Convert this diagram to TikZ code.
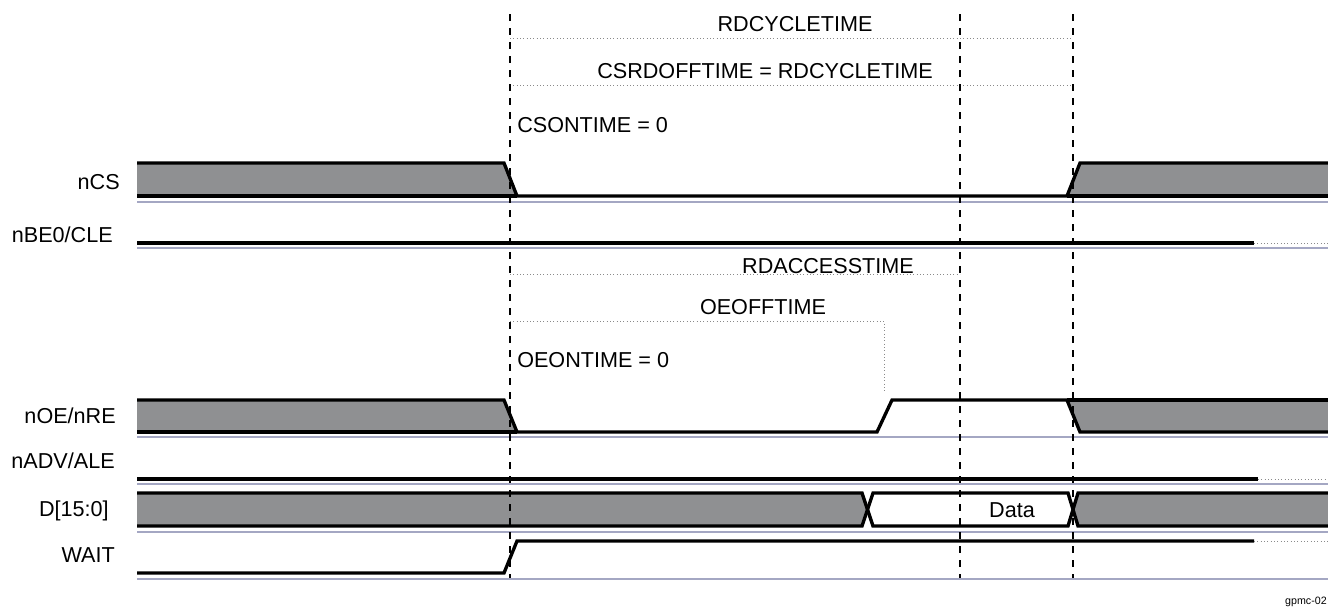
\documentclass[tikz,border=0pt]{standalone}
\usepackage{fontspec}
\setmainfont{Liberation Sans}
\usepackage{xcolor}
\usepackage{tikz}
\definecolor{cfill}{HTML}{8F9092}
\definecolor{cbase}{HTML}{A4A7C3}
\definecolor{cdot}{HTML}{8A8A8A}
\tikzset{
  sig/.style={line width=2.5pt,line join=miter},
  base/.style={cbase,line width=1.5pt},
  tick/.style={line width=1.2pt,dash pattern=on 5.5pt off 5pt},
  span/.style={cdot,line width=0.5pt,dotted},
  lbl/.style={font=\fontsize{16.2}{19}\selectfont,inner sep=0pt},
}

\begin{document}
\begin{tikzpicture}[x=0.75pt,y=-0.75pt]
\useasboundingbox (0,0) rectangle (1328,608);

% ===== signal names =====
\node[lbl,anchor=base east] (lcs) at (120,189) {nCS};
\node[lbl,anchor=base east] (lbe) at (113,242) {nBE0/CLE};
\node[lbl,anchor=base east] (loe) at (116,423) {nOE/nRE};
\node[lbl,anchor=base east] (ladv) at (115,468) {nADV/ALE};
\node[lbl,anchor=base east] (ld) at (109,516) {D[15:0]};
\node[lbl,anchor=base east] (lwait) at (115,562) {WAIT};

% ===== baselines =====
\foreach \y in {202,248,437,484,532,579}
  \draw[base] (137,\y) -- (1328,\y);

% ===== nCS =====
\fill[cfill] (137,163) -- (504,163) -- (517,196) -- (137,196) -- cycle;
\fill[cfill] (1080,163) -- (1328,163) -- (1328,196) -- (1067,196) -- cycle;
\draw[sig] (137,163) -- (504,163) -- (517,196) -- (1067,196) -- (1080,163) -- (1328,163);
\draw[sig] (137,196) -- (517,196);
\draw[sig] (1067,196) -- (1328,196);

% ===== nBE0/CLE =====
\draw[sig] (137,243) -- (1254,243);
\draw[span] (1254,243) -- (1328,243);

% ===== nOE/nRE =====
\fill[cfill] (137,400) -- (504,400) -- (517,432) -- (137,432) -- cycle;
\fill[cfill] (1067,400) -- (1328,400) -- (1328,432) -- (1080,432) -- cycle;
\draw[sig] (137,400) -- (504,400) -- (517,432) -- (877,432) -- (892,400) -- (1067,400) -- (1080,432) -- (1328,432);
\draw[sig] (137,432) -- (517,432);
\draw[sig] (1067,400) -- (1328,400);

% ===== nADV/ALE =====
\draw[sig] (137,479) -- (1258,479);
\draw[span] (1258,479) -- (1328,479);

% ===== D[15:0] =====
\fill[cfill] (137,493) -- (862,493) -- (867.5,509.5) -- (862,526) -- (137,526) -- cycle;
\fill[cfill] (1078,493) -- (1328,493) -- (1328,526) -- (1078,526) -- (1073,509.5) -- cycle;
\draw[sig] (137,493) -- (862,493) -- (873,526) -- (1068,526) -- (1078,493) -- (1328,493);
\draw[sig] (137,526) -- (862,526) -- (873,493) -- (1068,493) -- (1078,526) -- (1328,526);
\node[lbl,anchor=base] (data) at (1012,517) {Data};

% ===== WAIT =====
\draw[sig] (137,573) -- (504,573) -- (517,541) -- (1254,541);
\draw[span] (1254,541) -- (1328,541);

% ===== timing spans =====
\draw[span] (510,38) -- (1073,38);
\draw[span] (510,85) -- (1073,85);
\draw[span] (510,274) -- (960,274);
\draw[span] (510,321) -- (884,321) -- (884,392);
\node[lbl,anchor=base] (rdcyc) at (795,31) {RDCYCLETIME};
\node[lbl,anchor=base] (csoff) at (765,78) {CSRDOFFTIME = RDCYCLETIME};
\node[lbl,anchor=base west] (cson) at (517,132) {CSONTIME = 0};
\node[lbl,anchor=base] (rdacc) at (828,273) {RDACCESSTIME};
\node[lbl,anchor=base] (oeoff) at (763,314) {OEOFFTIME};
\node[lbl,anchor=base west] (oeon) at (517,367) {OEONTIME = 0};

% ===== time marks =====
\foreach \x in {510,960,1073}
  \draw[tick] (\x,14) -- (\x,578);

\node[font=\fontsize{8}{9}\selectfont,inner sep=0pt,anchor=base east] (fig) at (1327,604) {gpmc-02};
\end{tikzpicture}
\end{document}
